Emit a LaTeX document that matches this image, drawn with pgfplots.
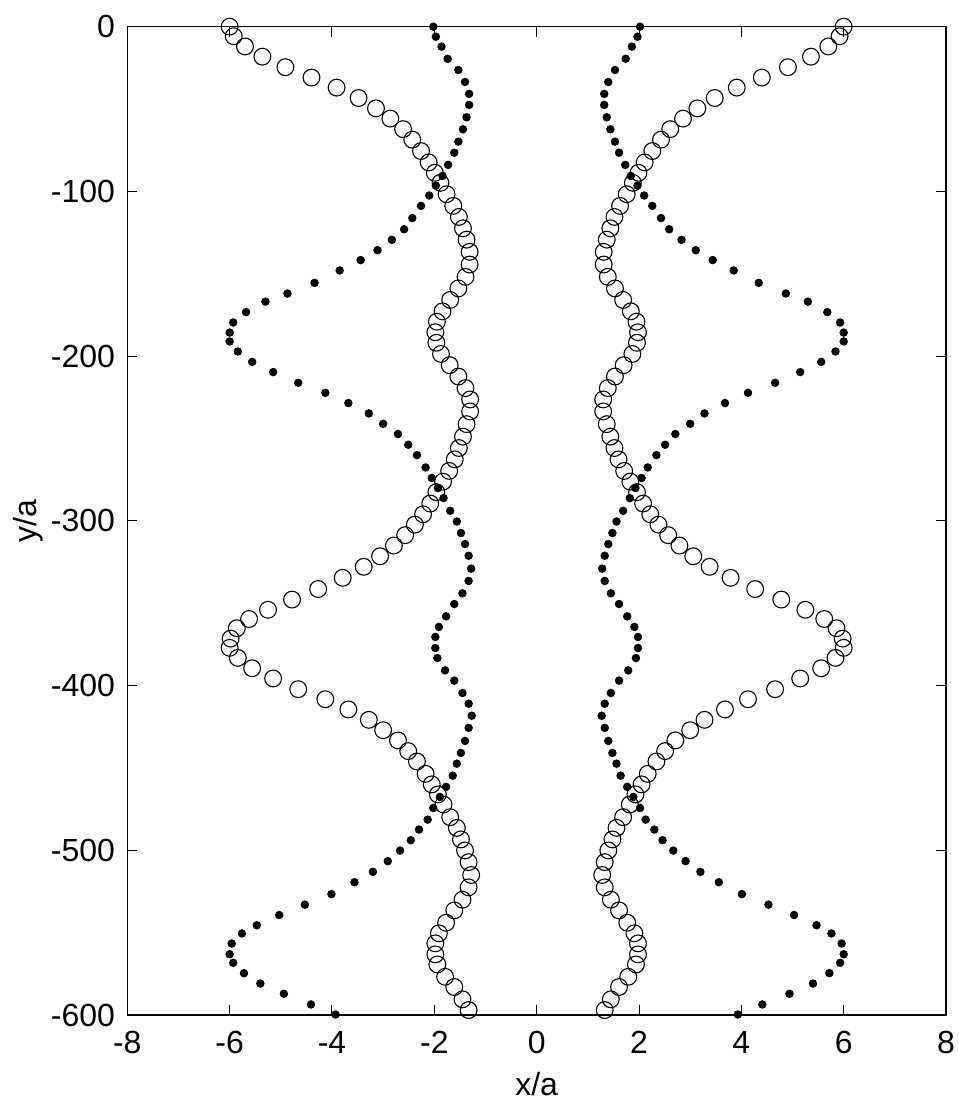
\documentclass[border=0pt]{standalone}
\usepackage{pgfplots}
\pgfplotsset{compat=1.18}
\usepackage{pgfplotstable}
\usepackage{fontspec}
\setmainfont{Liberation Sans}

% dots: x (left), xr (right), y
\pgfplotstableread{
x xr y
-2.02 2.02 0.0
-1.97 1.97 -6.1
-1.86 1.86 -12.1
-1.74 1.74 -19.5
-1.53 1.53 -26.3
-1.40 1.40 -33.6
-1.32 1.32 -40.8
-1.32 1.32 -47.5
-1.37 1.37 -55.0
-1.44 1.44 -62.3
-1.53 1.53 -69.8
-1.61 1.61 -76.5
-1.73 1.73 -83.9
-1.84 1.84 -90.6
-1.97 1.97 -96.5
-2.10 2.10 -102.5
-2.26 2.26 -108.8
-2.43 2.43 -116.2
-2.59 2.59 -123.0
-2.83 2.83 -129.4
-3.11 3.11 -135.7
-3.44 3.44 -141.7
-3.85 3.85 -148.0
-4.34 4.34 -155.5
-4.87 4.87 -162.0
-5.30 5.30 -166.9
-5.68 5.68 -173.3
-5.93 5.93 -179.6
-6.00 6.00 -185.7
-6.00 6.00 -191.1
-5.84 5.84 -197.2
-5.56 5.56 -203.5
-5.15 5.15 -209.7
-4.66 4.66 -216.2
-4.13 4.13 -222.3
-3.68 3.68 -228.5
-3.28 3.28 -234.8
-3.00 3.00 -241.1
-2.71 2.71 -247.3
-2.51 2.51 -253.8
-2.34 2.34 -260.1
-2.17 2.17 -267.6
-2.05 2.05 -274.0
-1.93 1.93 -280.1
-1.82 1.82 -286.2
-1.69 1.69 -293.9
-1.56 1.56 -300.4
-1.48 1.48 -307.4
-1.40 1.40 -314.1
-1.33 1.33 -321.2
-1.28 1.28 -329.0
-1.33 1.33 -336.5
-1.45 1.45 -344.0
-1.61 1.61 -350.5
-1.77 1.77 -358.0
-1.91 1.91 -364.4
-1.98 1.98 -370.5
-1.98 1.98 -377.2
-1.94 1.94 -383.3
-1.79 1.79 -390.8
-1.61 1.61 -397.0
-1.45 1.45 -404.5
-1.33 1.33 -411.0
-1.27 1.27 -418.3
-1.33 1.33 -425.7
-1.40 1.40 -433.6
-1.48 1.48 -440.9
-1.56 1.56 -447.4
-1.64 1.64 -454.7
-1.77 1.77 -461.5
-1.89 1.89 -467.6
-2.02 2.02 -474.3
-2.13 2.13 -481.4
-2.30 2.30 -487.4
-2.46 2.46 -493.9
-2.67 2.67 -500.2
-2.91 2.91 -506.6
-3.20 3.20 -513.1
-3.56 3.56 -519.4
-4.01 4.01 -526.6
-4.53 4.53 -533.0
-5.03 5.03 -539.3
-5.47 5.47 -545.5
-5.76 5.76 -550.5
-5.96 5.96 -556.6
-6.00 6.00 -563.1
-5.93 5.93 -568.3
-5.72 5.72 -574.6
-5.40 5.40 -580.9
-4.94 4.94 -587.1
-4.41 4.41 -593.6
-3.93 3.93 -599.7
}\dots

% open circles: x (left), xr (right), y
\pgfplotstableread{
x xr y
-6.00 6.00 0.0
-5.92 5.92 -5.8
-5.70 5.70 -12.0
-5.36 5.36 -18.2
-4.91 4.91 -24.6
-4.40 4.40 -30.9
-3.91 3.91 -37.0
-3.48 3.48 -43.3
-3.14 3.14 -49.6
-2.86 2.86 -55.8
-2.61 2.61 -62.2
-2.43 2.43 -68.6
-2.26 2.26 -75.5
-2.11 2.11 -82.4
-1.99 1.99 -88.7
-1.88 1.88 -94.8
-1.76 1.76 -101.7
-1.63 1.63 -108.8
-1.52 1.52 -115.5
-1.44 1.44 -122.4
-1.37 1.37 -129.3
-1.31 1.31 -136.7
-1.31 1.31 -144.4
-1.39 1.39 -151.9
-1.53 1.53 -158.9
-1.69 1.69 -165.9
-1.84 1.84 -172.8
-1.95 1.95 -179.1
-1.98 1.98 -185.5
-1.96 1.96 -191.9
-1.87 1.87 -198.7
-1.70 1.70 -205.5
-1.53 1.53 -212.4
-1.39 1.39 -219.4
-1.30 1.30 -226.3
-1.30 1.30 -233.6
-1.37 1.37 -241.3
-1.44 1.44 -248.9
-1.52 1.52 -255.8
-1.60 1.60 -262.7
-1.71 1.71 -269.7
-1.83 1.83 -276.2
-1.96 1.96 -282.6
-2.08 2.08 -289.5
-2.22 2.22 -296.0
-2.38 2.38 -302.3
-2.57 2.57 -308.7
-2.79 2.79 -315.0
-3.06 3.06 -321.5
-3.38 3.38 -327.9
-3.79 3.79 -334.6
-4.27 4.27 -341.4
-4.78 4.78 -347.8
-5.25 5.25 -354.0
-5.62 5.62 -359.6
-5.86 5.86 -365.2
-5.98 5.98 -371.5
-6.00 6.00 -377.1
-5.84 5.84 -383.2
-5.56 5.56 -389.5
-5.15 5.15 -395.7
-4.66 4.66 -402.2
-4.13 4.13 -408.3
-3.68 3.68 -414.5
-3.28 3.28 -420.8
-3.00 3.00 -427.1
-2.71 2.71 -433.3
-2.51 2.51 -439.8
-2.34 2.34 -446.1
-2.17 2.17 -453.6
-2.05 2.05 -460.0
-1.93 1.93 -466.1
-1.82 1.82 -472.2
-1.69 1.69 -479.9
-1.56 1.56 -486.4
-1.48 1.48 -493.4
-1.40 1.40 -500.1
-1.33 1.33 -507.2
-1.28 1.28 -515.0
-1.33 1.33 -522.5
-1.45 1.45 -530.0
-1.61 1.61 -536.5
-1.77 1.77 -544.0
-1.91 1.91 -550.4
-1.98 1.98 -556.5
-1.98 1.98 -563.2
-1.94 1.94 -569.3
-1.79 1.79 -576.8
-1.61 1.61 -583.0
-1.45 1.45 -590.5
-1.33 1.33 -597.0
}\circles

\begin{document}
\begin{tikzpicture}
\begin{axis}[
    scale only axis,
    width=409.4pt, height=494.2pt,
    xmin=-8, xmax=8, ymin=-600, ymax=0,
    xtick={-8,-6,...,8},
    ytick={-600,-500,...,0},
    font=\fontsize{16}{19}\selectfont,
    /pgf/number format/assume math mode=true,
    tick align=inside,
    major tick length=5pt,
    every tick/.style={black, line width=0.5pt},
    axis line style={line width=0.6pt},
    xticklabel style={inner sep=0pt, anchor=north, yshift=-7.8pt},
    yticklabel style={inner sep=0pt, anchor=east, xshift=-6pt},
]
\addplot[only marks, mark=o, mark size=4.2pt, line width=0.55pt, black]
    table[x=x, y=y] {\circles};
\addplot[only marks, mark=o, mark size=4.2pt, line width=0.55pt, black]
    table[x=xr, y=y] {\circles};
\addplot[only marks, mark=*, mark size=1.9pt, black]
    table[x=x, y=y] {\dots};
\addplot[only marks, mark=*, mark size=1.9pt, black]
    table[x=xr, y=y] {\dots};
\end{axis}
\node[anchor=base, font=\fontsize{16}{19}\selectfont] at ([yshift=-40pt]current axis.south) {x/a};
\node[anchor=base, rotate=90, font=\fontsize{16}{19}\selectfont] at ([xshift=-45.3pt]current axis.west) {y/a};
\path ([xshift=-63.65pt, yshift=-43.5pt]current axis.south west) rectangle ([xshift=6pt, yshift=13.35pt]current axis.north east);
\end{tikzpicture}
\end{document}
